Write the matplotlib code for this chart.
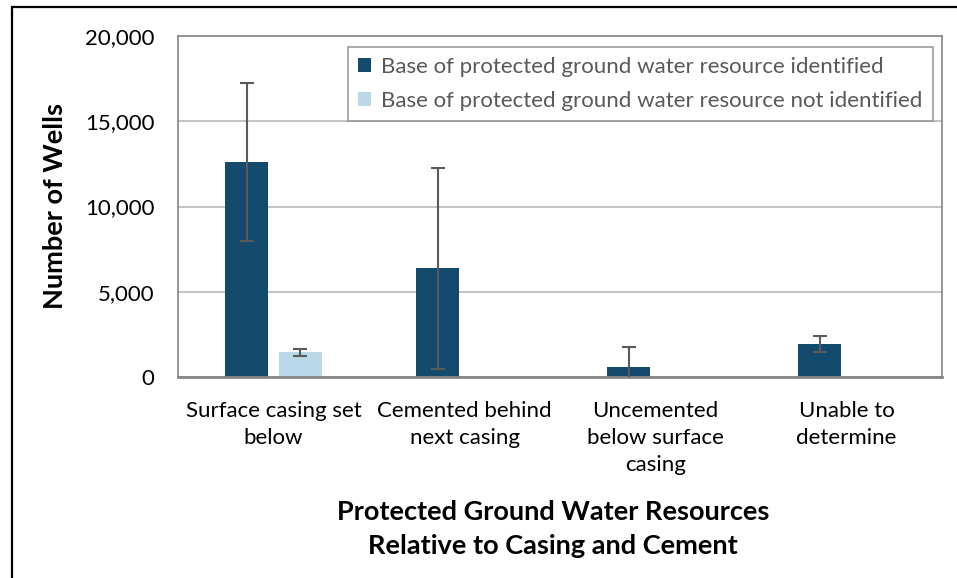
import matplotlib.pyplot as plt
from matplotlib.patches import Rectangle

plt.rcParams['font.family'] = ['Lato', 'DejaVu Sans']

categories = ["Surface casing set\nbelow", "Cemented behind\nnext casing",
              "Uncemented\nbelow surface\ncasing", "Unable to\ndetermine"]
identified = [12600, 6380, 590, 1920]
identified_err = [4650, 5900, 1170, 460]
not_identified = [1440, 30, 0, 0]
not_identified_err = [200, 0, 0, 0]
series_names = ["Base of protected ground water resource identified",
                "Base of protected ground water resource not identified"]

W, H = 957, 578
fig = plt.figure(figsize=(W / 100, H / 100), dpi=100)
ax = fig.add_axes([178 / W, (H - 377) / H, 764 / W, 341 / H])

x = list(range(len(categories)))
bw = 0.225
off = 0.141
ax.bar([i - off for i in x], identified, bw, color="#154a6f", label=series_names[0], zorder=2)
ax.bar([i + off for i in x], not_identified, bw, color="#bad8e8", label=series_names[1], zorder=2)
ax.errorbar([i - off for i in x], identified, yerr=identified_err, fmt="none",
            ecolor="#5a5a5a", elinewidth=1.5, capsize=5, capthick=1.5, zorder=3)
ax.errorbar([i + off for i in x[:1]], not_identified[:1], yerr=not_identified_err[:1], fmt="none",
            ecolor="#5a5a5a", elinewidth=1.5, capsize=5, capthick=1.5, zorder=3)

ax.set_xlim(-0.5, len(categories) - 0.5)
ax.set_ylim(0, 20000)
ax.set_yticks([0, 5000, 10000, 15000, 20000])
ax.set_yticklabels(["0", "5,000", "10,000", "15,000", "20,000"])
ax.set_xticks(x)
ax.set_xticklabels(categories, linespacing=1.45)
ax.tick_params(axis="y", length=0, pad=17, labelsize=16)
ax.tick_params(axis="x", length=0, pad=17, labelsize=16)
ax.grid(axis="y", color="#bfbfbf", linewidth=1.3, zorder=0)
ax.set_axisbelow(True)
for s in ["left", "right", "top"]:
    ax.spines[s].set_color("#8c8c8c")
    ax.spines[s].set_linewidth(1.3)
ax.spines["bottom"].set_color("#868686")
ax.spines["bottom"].set_linewidth(2)

leg = ax.legend(loc="upper right", bbox_to_anchor=(0.988, 0.969), frameon=True,
                fancybox=False, edgecolor="#8c8c8c", fontsize=16, handlelength=0.6,
                handleheight=0.6, handletextpad=0.45, labelspacing=0.65,
                borderpad=0.45, borderaxespad=0)
for t in leg.get_texts():
    t.set_color("#595959")
leg.get_frame().set_linewidth(1.3)

fig.text(55 / W, 1 - 206 / H, "Number of Wells", rotation=90, ha="center", va="center",
         fontsize=19.5, fontweight="bold")
fig.text(553 / W, 1 - 529 / H, "Protected Ground Water Resources\nRelative to Casing and Cement",
         ha="center", va="center", fontsize=19.5, fontweight="bold", linespacing=1.55)

fig.patches.append(Rectangle((12 / W, -0.1), 1.2, 1 - 7 / H + 0.1, transform=fig.transFigure,
                             fill=False, edgecolor="black", linewidth=1.6))

fig.savefig("out.png", dpi=100)
